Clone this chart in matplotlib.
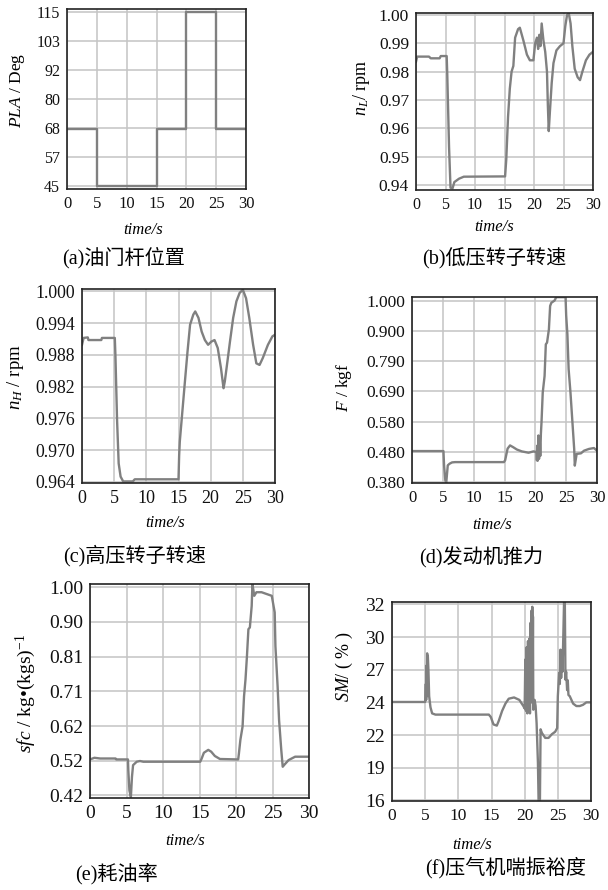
from matplotlib import pyplot as plt
import numpy as np

plt.rcParams['font.family'] = ['Liberation Serif', 'Noto Sans CJK SC']
plt.rcParams['mathtext.fontset'] = 'custom'
plt.rcParams['mathtext.rm'] = 'Liberation Serif'
plt.rcParams['mathtext.it'] = 'Liberation Serif:italic'

# ---- data ----
xticks = [0, 5, 10, 15, 20, 25, 30]

# (a) throttle lever angle
t_pla = [0, 5, 15, 20, 25, 30]
pla = [68, 45, 68, 115, 68, 68]
pla_ticks = ['45', '57', '68', '80', '92', '103', '115']

# (b) low pressure spool speed
t_nl = [0.0, 0.2, 2.2, 2.5, 4.0, 4.2, 5.2, 5.3, 5.6, 5.85, 6.2, 6.5, 7.3, 8.1,
        15.1, 15.3, 15.6, 15.9, 16.2, 16.5, 16.8, 17.3, 17.6, 18.2, 18.8, 19.3,
        19.9, 20.2, 20.5, 20.7, 20.9, 21.1, 21.3, 21.6, 21.9, 22.2, 22.35, 22.5,
        22.7, 23.0, 23.3, 23.8, 24.4, 25.0, 25.3, 25.6, 25.9, 26.2, 26.5, 26.9,
        27.4, 27.8, 28.2, 28.8, 29.4, 30.0]
nl = [0.9835, 0.9853, 0.9853, 0.9847, 0.9847, 0.9855, 0.9855, 0.979, 0.9535,
      0.939, 0.9388, 0.941, 0.9422, 0.9429, 0.9430, 0.949, 0.964, 0.974, 0.980,
      0.982, 0.992, 0.995, 0.9955, 0.991, 0.986, 0.984, 0.984, 0.990, 0.992,
      0.988, 0.993, 0.989, 0.997, 0.991, 0.987, 0.980, 0.968, 0.959, 0.966,
      0.976, 0.983, 0.9875, 0.989, 0.990, 0.996, 1.000, 1.0005, 0.997, 0.989,
      0.981, 0.978, 0.977, 0.980, 0.984, 0.986, 0.987]
nl_ticks = ['0.94', '0.95', '0.96', '0.97', '0.98', '0.99', '1.00']

# (c) high pressure spool speed
t_nh = [0.0, 0.25, 0.9, 1.0, 3.0, 3.1, 5.1, 5.2, 5.45, 5.7, 6.0, 6.4, 7.9, 8.2,
        15.0, 15.1, 15.2, 15.6, 16.0, 16.4, 16.8, 17.3, 17.6, 18.1, 18.6, 19.1,
        19.6, 20.1, 20.6, 21.1, 21.6, 22.0, 22.2, 22.6, 23.0, 23.5, 24.0, 24.5,
        25.0, 25.5, 26.0, 26.6, 27.1, 27.6, 28.1, 28.9, 29.6, 30.0]
nh = [0.9899, 0.9912, 0.9913, 0.9908, 0.9908, 0.9912, 0.9912, 0.9877, 0.9757,
      0.9675, 0.965, 0.9641, 0.9641, 0.9645, 0.9645, 0.9690, 0.9716, 0.9773,
      0.983, 0.9886, 0.9937, 0.9956, 0.9962, 0.995, 0.9924, 0.9908, 0.9899,
      0.9905, 0.9908, 0.9893, 0.9855, 0.9817, 0.983, 0.9867, 0.9905, 0.995,
      0.9981, 0.9997, 1.0003, 0.9987, 0.995, 0.9899, 0.9864, 0.9861, 0.9874,
      0.9899, 0.9915, 0.9918]
nh_ticks = ['0.964', '0.970', '0.976', '0.982', '0.988', '0.994', '1.000']

# (d) thrust
t_f = [0.0, 5.1, 5.2, 5.4, 5.55, 5.8, 6.1, 6.5, 7.0, 14.9, 15.1, 15.5, 15.9,
       16.4, 17.0, 17.8, 18.9, 19.7, 20.2, 20.25, 20.3, 20.4, 20.5, 20.6, 20.7,
       20.8, 20.9, 21.0, 21.2, 21.5, 21.7, 21.9, 22.2, 22.4, 22.6, 23.1, 23.4,
       24.9, 25.0, 25.2, 25.4, 25.7, 26.0, 26.3, 26.4, 26.7, 27.4, 27.9, 28.7,
       29.5, 30.0]
f = [0.4867, 0.4867, 0.438, 0.387, 0.378, 0.438, 0.4436, 0.448, 0.449, 0.449,
     0.455, 0.495, 0.506, 0.500, 0.492, 0.4856, 0.481, 0.4856, 0.483, 0.455,
     0.505, 0.454, 0.540, 0.46, 0.535, 0.47, 0.545, 0.584, 0.686, 0.743, 0.851,
     0.857, 0.902, 0.982, 0.993, 1.000, 1.012, 1.012, 0.95, 0.885, 0.766, 0.686,
     0.59, 0.494, 0.437, 0.477, 0.479, 0.488, 0.494, 0.497, 0.488]
f_ticks = ['0.380', '0.480', '0.580', '0.690', '0.790', '0.900', '1.000']

# (e) specific fuel consumption
t_sfc = [0.0, 0.6, 1.4, 3.5, 3.6, 5.2, 5.25, 5.4, 5.6, 5.75, 5.9, 6.4, 6.85,
         7.3, 15.1, 15.3, 15.6, 16.2, 16.6, 17.1, 17.8, 20.3, 20.4, 20.6, 20.9,
         21.1, 21.3, 21.5, 21.7, 21.9, 22.15, 22.25, 22.5, 22.8, 23.5, 24.2,
         24.9, 25.3, 25.4, 25.7, 25.9, 26.2, 26.4, 26.6, 27.2, 28.1, 30.0]
sfc = [0.5204, 0.525, 0.523, 0.523, 0.5204, 0.5204, 0.49, 0.434, 0.416, 0.472,
       0.5045, 0.514, 0.516, 0.514, 0.514, 0.523, 0.539, 0.547, 0.542, 0.53,
       0.5216, 0.5204, 0.537, 0.575, 0.612, 0.696, 0.743, 0.808, 0.883, 0.888,
       0.948, 1.009, 0.976, 0.986, 0.986, 0.981, 0.976, 0.93, 0.836, 0.724,
       0.63, 0.547, 0.50, 0.505, 0.5185, 0.528, 0.528]
sfc_ticks = ['0.42', '0.52', '0.62', '0.71', '0.81', '0.90', '1.00']

# (f) surge margin
t_sm = [0.0, 5.0, 5.1, 5.15, 5.2, 5.25, 5.3, 5.35, 5.4, 5.5, 5.6, 5.8, 6.05,
        6.55, 14.6, 14.9, 15.3, 15.8, 16.1, 16.6, 17.1, 17.6, 18.4, 19.2, 19.8,
        20.0, 20.1, 20.2, 20.3, 20.4, 20.5, 20.6, 20.7, 20.8, 20.9, 21.0, 21.05,
        21.1, 21.15, 21.2, 21.25, 21.3, 21.5, 21.65, 21.8, 22.0, 22.1, 22.3,
        22.4, 22.6, 23.1, 23.6, 24.1, 24.6, 24.9, 25.0, 25.2, 25.3, 25.4, 25.5,
        25.6, 25.7, 25.8, 25.95, 26.05, 26.15, 26.25, 26.4, 26.5, 26.6, 26.8,
        27.3, 27.8, 28.3, 28.8, 29.3, 30.0]
sm = [24.03, 24.03, 25.5, 24.2, 27.0, 24.5, 28.0, 25.0, 27.8, 26.5, 24.5, 23.6,
      23.1, 23.0, 23.0, 22.8, 22.2, 22.1, 22.5, 23.3, 23.9, 24.3, 24.4, 24.2,
      23.7, 23.5, 27.5, 23.3, 28.5, 23.1, 29.0, 23.3, 29.2, 23.1, 30.5, 24.0,
      31.5, 24.5, 31.8, 25.0, 31.0, 23.4, 24.2, 23.7, 22.3, 19.05, 15.9, 15.9,
      21.8, 21.5, 21.1, 21.1, 21.4, 21.6, 21.9, 24.5, 26.4, 25.5, 28.3, 26.0,
      27.8, 26.5, 28.8, 32.5, 32.5, 25.85, 26.5, 25.0, 25.8, 24.6, 24.5, 23.9,
      23.7, 23.7, 23.8, 24.0, 24.0]
sm_ticks = ['16', '19', '22', '24', '27', '30', '32']

W, H = 608.0, 890.0
fig = plt.figure(figsize=(W / 100, H / 100), dpi=100)


def make_ax(box):
	# box in pixels: left, top, right, bottom
	x0, y0, x1, y1 = box
	return fig.add_axes([x0 / W, 1 - y1 / H, (x1 - x0) / W, (y1 - y0) / H])


def setup(ax, box, lo, hi, ylim, labels, yfs, xfs, ylab, ylab_fs, ylab_xy, xlab_xy):
	x0, y0, x1, y1 = box
	w, h = x1 - x0, y1 - y0
	ax.set_xlim(0, 30)
	ax.set_ylim(*ylim)
	ax.set_xticks(xticks)
	ax.set_yticks(np.linspace(lo, hi, 7))
	ax.set_yticklabels(labels)
	ax.grid(True, color='#c4c4c4', lw=1.1)
	ax.set_axisbelow(True)
	ax.tick_params(length=0, pad=5, colors='#111111')
	ax.tick_params(axis='y', labelsize=yfs)
	ax.tick_params(axis='x', labelsize=xfs)
	for s in ax.spines.values():
		s.set_color('#222222')
		s.set_linewidth(1.2)
	ax.set_ylabel(ylab, fontsize=ylab_fs, va='center')
	ax.yaxis.set_label_coords((ylab_xy[0] - x0) / w, (y1 - ylab_xy[1]) / h)
	ax.set_xlabel('time/s', fontsize=12, fontstyle='italic', va='center')
	ax.xaxis.set_label_coords((xlab_xy[0] - x0) / w, (y1 - xlab_xy[1]) / h)


line_kw = dict(color='#808080', lw=1.7)

# (a)
box = (67, 9, 246, 189)
ax = make_ax(box)
ax.step(t_pla, pla, where='post', **line_kw)
setup(ax, box, 45, 115, (43.8, 116.2), pla_ticks, 11.5, 12,
      r'$PLA$ / Deg', 12.5, (17, 90), (143, 230))

# (b)
box = (416, 13, 593, 190)
ax = make_ax(box)
ax.plot(t_nl, nl, **line_kw)
setup(ax, box, 0.94, 1.00, (0.9382, 1.0007), nl_ticks, 12.5, 11.5,
      r'$n_L$/ rpm', 13, (361, 88), (494, 227))

# (c)
box = (82, 289, 275, 483)
ax = make_ax(box)
ax.plot(t_nh, nh, **line_kw)
setup(ax, box, 0.964, 1.000, (0.9638, 1.00044), nh_ticks, 12.8, 13,
      r'$n_H$ / rpm', 13.5, (16, 377), (165, 523))

# (d)
box = (412, 297, 597, 483)
ax = make_ax(box)
ax.plot(t_f, f, **line_kw)
setup(ax, box, 0.38, 1.00, (0.3777, 1.0125), f_ticks, 12.5, 12,
      r'$F$ / kgf', 12.5, (344, 387), (492, 525))

# (e)
box = (90, 584, 309, 798)
ax = make_ax(box)
ax.plot(t_sfc, sfc, **line_kw)
setup(ax, box, 0.42, 1.00, (0.413, 1.0089), sfc_ticks, 14, 14,
      r'$sfc$ / kg•(kgs)$^{-1}$', 14, (26, 693), (185, 841))

# (f)
box = (392, 602, 591, 801)
ax = make_ax(box)
ax.plot(t_sm, sm, **line_kw)
setup(ax, box, 16, 32, (15.95, 32.19), sm_ticks, 14, 12.5,
      r'$SM$/ ( % )', 13, (344, 667), (472, 845))

# captions under each panel
captions = ['(a)油门杆位置', '(b)低压转子转速', '(c)高压转子转速',
            '(d)发动机推力', '(e)耗油率', '(f)压气机喘振裕度']
cap_xy = [(124, 258), (494, 259), (135, 556), (481, 557), (116, 874), (506, 868)]
for txt, (cx, cy) in zip(captions, cap_xy):
	fig.text(cx / W, 1 - cy / H, txt, ha='center', va='center', fontsize=14.5,
	         family=['Liberation Serif', 'Noto Sans CJK SC'])

plt.savefig('out.png', dpi=100)
